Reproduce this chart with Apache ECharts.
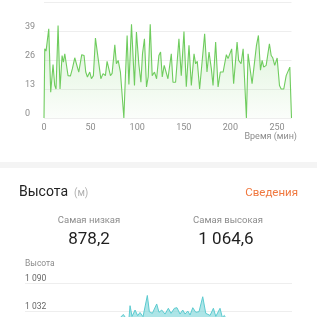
<!DOCTYPE html>
<html>
<head>
<meta charset="utf-8">
<script src="https://cdn.jsdelivr.net/npm/echarts@6/dist/echarts.min.js"></script>
<style>
  html, body { margin: 0; padding: 0; background: #fff; width: 317px; height: 317px; overflow: hidden; }
  #main { width: 317px; height: 420px; }
</style>
</head>
<body>
<div id="main"></div>
<script>
// верхний график: [минуты, значение]
var topPoints = [
  [0,0],[0.8,31],[2.2,30],[5.1,40],[7.2,11.6],[9.7,24],[11.5,14.6],[12.9,13],[15.1,41.5],[17.2,13],
  [19.4,28],[20.8,25],[22.3,28.8],[24,29],[25.8,19],[28.3,18.8],[30.4,22],[33,27],[34.7,26.5],[37.3,20.6],
  [40.5,28.4],[43,28],[44.8,20.6],[46.6,18.4],[49.1,20.6],[50.9,17.6],[53,19],[55.2,35.8],[57,35.8],[59.1,23.6],
  [61,17.6],[63.4,19.9],[65.9,19],[67.7,25.4],[69.6,25],[71.3,19],[73.1,20],[76,32.8],[77.7,24.3],[79.6,25.8],
  [82,20.6],[85.7,0],[87.4,19],[89.2,37],[91.1,15],[93.9,42],[95.4,42],[97.1,14.6],[99.2,38.5],[101.8,24],
  [104,16],[105.7,28.8],[107.8,35.5],[110,13.9],[111.8,18.4],[114,42],[116.1,19],[118.6,20.6],[120.8,17.6],[123.3,28],
  [125.1,29.6],[126.9,18.4],[129,23.6],[130.4,23.6],[133,17.6],[136.6,28.8],[138.4,16],[141.2,16],[144.8,35.5],[147.3,19],
  [150.2,38.8],[152.7,14],[155.6,32.6],[158.1,14.6],[161,28.8],[162.7,24.3],[164.5,25.4],[167,13],[168.8,13],[172.4,37.8],
  [174.9,20.6],[177.1,29.6],[179.6,22],[181.4,14.6],[184.2,34],[186.8,13.9],[189.2,20.6],[192.2,20.6],[195.7,28.4],[197.5,26.6],
  [199.5,27],[201.4,31],[203.5,15.4],[207.2,34],[208.9,25.8],[211.5,24.3],[213.7,31],[215.4,30.3],[217.2,0],[219,28.8],
  [223.3,15.4],[225.1,15.7],[228,32.6],[230.1,37],[232.3,21.4],[234.1,25.8],[235.8,22.8],[238.4,23.6],[241.9,33.3],[243.8,28],
  [245.5,27],[247.6,23.6],[250.2,26.9],[252.7,14.6],[254.5,13],[257.3,13],[259.9,19],[261.6,19],[263.8,22.8],[265.6,0]
];
var topYTicks = [0, 13, 26, 39];
var topXTicks = [0, 50, 100, 150, 200, 250];

// высота: [минуты, м]
var altPoints = [
  [0,878.2],[12,889],[25,902],[38,918],[50,931],[62,947],[74,963],[84,984],[92,1008],
  [94.5,1019],[97.8,1026],[100.5,1018],[103.5,1020],[104.5,1043.8],[106.5,1022],[109.5,1035],[112.1,1023.5],
  [114.4,1030],[117.4,1021.4],[121.7,1064.6],[123.7,1031.6],[126.7,1028.3],[131,1047.3],[133.3,1030.4],
  [136,1035],[139.3,1026.8],[142.6,1038.5],[145.3,1028.3],[148.6,1038.5],[151.2,1039.7],[154.2,1026.8],
  [156.9,1035],[159.2,1026.8],[161.9,1033],[164.2,1024.9],[166.9,1039.7],[169.9,1030.4],[173.1,1031.6],
  [176.8,1062],[179.8,1028.3],[184.1,1024],[187.4,1038.5],[189.8,1022],[194,1038.5],[196.3,1020],
  [198.3,1024],[200.5,1015],[206,1004],[215,985],[228,962],[240,941],[252,921],[265.6,905]
];
var altMin = '878,2';
var altMax = '1 064,6';

var gray = '#8c8c8c';
var font = 'Roboto, "Noto Sans", sans-serif';

function spaced(v) {
  return String(v).replace(/\B(?=(\d{3})+(?!\d))/g, ' ');
}

var chart = echarts.init(document.getElementById('main'));
var option = {
  animation: false,
  backgroundColor: '#fff',
  textStyle: { fontFamily: font },
  grid: [
    { left: 44, right: 25.5, top: 2, height: 116 },
    { left: 25, right: 25, top: 283, height: 114 }
  ],
  xAxis: [{
    gridIndex: 0,
    type: 'value',
    min: 0,
    max: 'dataMax',
    interval: 50,
    axisLine: { show: false },
    axisTick: { show: false },
    splitLine: { show: false },
    axisLabel: {
      color: gray,
      fontSize: 9,
      margin: 5,
      formatter: function (v) { return topXTicks.indexOf(v) >= 0 ? String(v) : ''; }
    }
  }, {
    gridIndex: 1,
    type: 'value',
    min: 0,
    max: 'dataMax',
    show: false
  }],
  yAxis: [{
    gridIndex: 0,
    type: 'value',
    min: 0,
    max: 52,
    interval: 13,
    axisLine: { show: false },
    axisTick: { show: false },
    splitLine: { lineStyle: { color: '#eeeeee', width: 1 } },
    axisLabel: {
      color: gray,
      fontSize: 9,
      align: 'left',
      verticalAlign: 'bottom',
      margin: 19,
      formatter: function (v) { return topYTicks.indexOf(v) >= 0 ? String(v) : ''; }
    }
  }, {
    gridIndex: 1,
    type: 'value',
    min: 858,
    max: 1090,
    interval: 58,
    name: 'Высота',
    nameLocation: 'end',
    nameGap: 19,
    nameTextStyle: { color: gray, fontSize: 8.5, align: 'left', verticalAlign: 'middle' },
    axisLine: { show: false },
    axisTick: { show: false },
    splitLine: { lineStyle: { color: '#eeeeee', width: 1 } },
    axisLabel: {
      color: '#666',
      fontSize: 8.5,
      align: 'left',
      verticalAlign: 'bottom',
      margin: 0,
      formatter: function (v) { return spaced(v); }
    }
  }],
  series: [{
    type: 'line',
    xAxisIndex: 0,
    yAxisIndex: 0,
    data: topPoints,
    showSymbol: false,
    lineStyle: { color: '#6fcc5e', width: 1.1 },
    areaStyle: {
      color: new echarts.graphic.LinearGradient(0, 0, 0, 1, [
        { offset: 0, color: 'rgba(111,204,94,0.36)' },
        { offset: 1, color: 'rgba(111,204,94,0.04)' }
      ])
    }
  }, {
    type: 'line',
    xAxisIndex: 1,
    yAxisIndex: 1,
    data: altPoints,
    showSymbol: false,
    lineStyle: { color: '#5ccbd0', width: 1 },
    areaStyle: { color: 'rgba(128,215,218,0.92)' }
  }],
  graphic: [
    { type: 'text', x: 297, y: 137, style: { text: 'Время (мин)', fill: gray, font: '9px ' + font, textAlign: 'right', textVerticalAlign: 'middle' } },
    { type: 'rect', shape: { x: 0, y: 162, width: 317, height: 6 }, style: { fill: '#f4f4f4' } },
    { type: 'text', x: 19, y: 192, style: { text: 'Высота', fill: '#222', font: '14px ' + font, textAlign: 'left', textVerticalAlign: 'middle' } },
    { type: 'text', x: 74, y: 193, style: { text: '(м)', fill: '#b0b0b0', font: '10px ' + font, textAlign: 'left', textVerticalAlign: 'middle' } },
    { type: 'text', x: 298, y: 193, style: { text: 'Сведения', fill: '#f0783f', font: '11.5px ' + font, textAlign: 'right', textVerticalAlign: 'middle' } },
    { type: 'text', x: 89, y: 221, style: { text: 'Самая низкая', fill: gray, font: '9.5px ' + font, textAlign: 'center', textVerticalAlign: 'middle' } },
    { type: 'text', x: 228, y: 221, style: { text: 'Самая высокая', fill: gray, font: '9.5px ' + font, textAlign: 'center', textVerticalAlign: 'middle' } },
    { type: 'text', x: 89, y: 240, style: { text: altMin, fill: '#1f1f1f', font: '17px ' + font, textAlign: 'center', textVerticalAlign: 'middle' } },
    { type: 'text', x: 226, y: 240, style: { text: altMax, fill: '#1f1f1f', font: '17px ' + font, textAlign: 'center', textVerticalAlign: 'middle' } }
  ]
};
chart.setOption(option);
</script>
</body>
</html>
